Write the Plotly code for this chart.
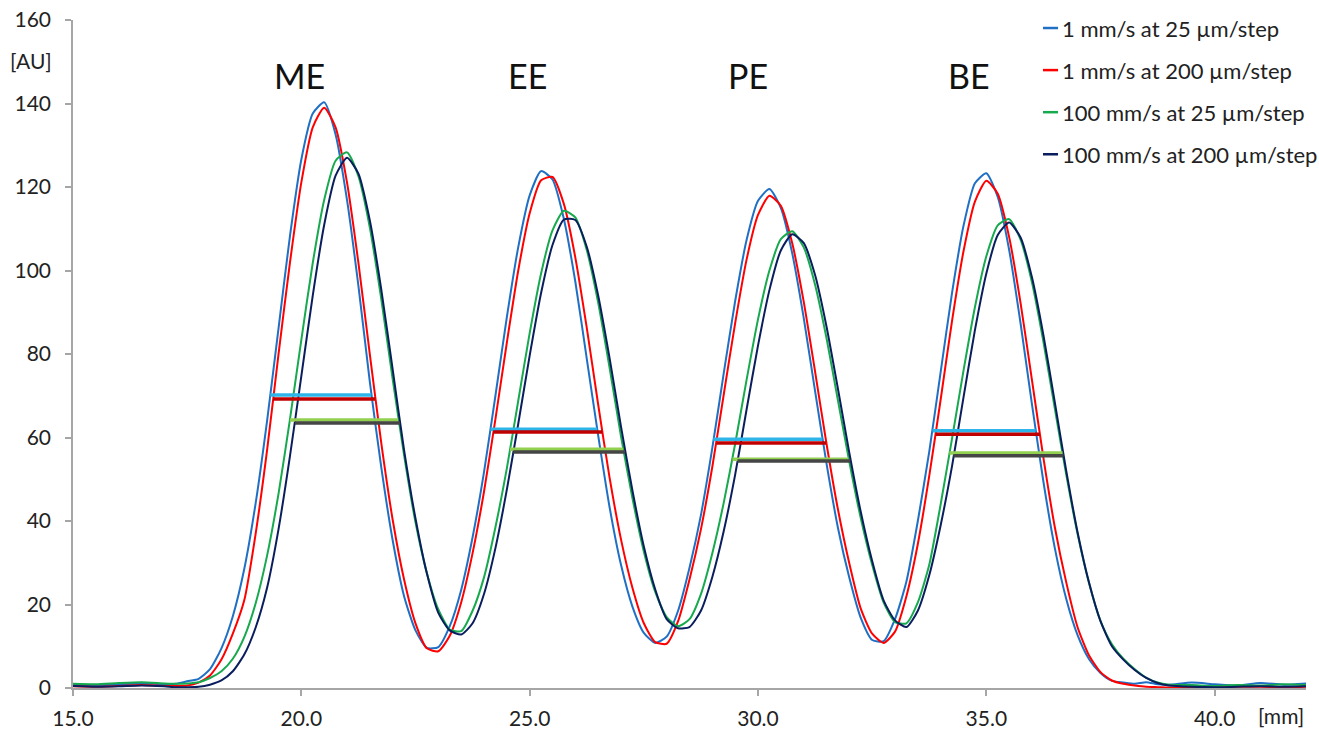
import plotly.graph_objects as go

# ---------------- data ----------------
X_MM = [15.0, 15.5, 16.0, 16.5,
        17.0, 17.25, 17.5, 17.75, 18.0, 18.25, 18.5, 18.75, 19.0, 19.25, 19.5, 19.75,
        20.0, 20.25, 20.5, 20.75, 21.0, 21.25, 21.5, 21.75, 22.0, 22.25, 22.5, 22.75,
        23.0, 23.25, 23.5, 23.75, 24.0, 24.25, 24.5, 24.75, 25.0, 25.25, 25.5, 25.75,
        26.0, 26.25, 26.5, 26.75, 27.0, 27.25, 27.5, 27.75, 28.0, 28.25, 28.5, 28.75,
        29.0, 29.25, 29.5, 29.75, 30.0, 30.25, 30.5, 30.75, 31.0, 31.25, 31.5, 31.75,
        32.0, 32.25, 32.5, 32.75, 33.0, 33.25, 33.5, 33.75, 34.0, 34.25, 34.5, 34.75,
        35.0, 35.25, 35.5, 35.75, 36.0, 36.25, 36.5, 36.75, 37.0, 37.25, 37.5, 37.75,
        38.0, 38.25, 38.5, 38.75,
        39.0, 39.5, 40.0, 40.5, 41.0, 41.5, 42.0]

BLUE_1_25 = [0.8, 0.6, 0.9, 1.1,
             0.9, 1.0, 1.6, 2.2, 4.5, 9.5, 17.2, 28.5, 44.3, 64.0, 86.1, 108.2,
             126.6, 137.6, 140.3, 132.6, 116.9, 96.3, 73.3, 52.9, 35.4, 22.0, 13.8, 9.6,
             9.8, 14.8, 23.5, 36.1, 51.7, 70.0, 88.8, 105.6, 118.0, 123.8, 121.8, 112.3,
             97.3, 78.9, 60.5, 43.3, 29.5, 19.5, 13.2, 10.8, 12.3, 18.5, 28.8, 41.4,
             57.5, 75.4, 92.7, 107.3, 116.7, 119.5, 115.0, 104.1, 88.7, 71.1, 53.8, 38.4,
             26.4, 16.8, 11.5, 11.2, 16.5, 25.5, 40.0, 56.6, 75.7, 94.7, 110.7, 120.9,
             123.3, 117.6, 104.9, 87.3, 67.9, 49.4, 33.5, 21.3, 12.6, 6.9, 3.6, 1.7,
             1.3, 1.0, 1.4, 0.9,
             0.8, 1.3, 0.9, 0.6, 1.2, 0.8, 1.1]

RED_1_200 = [0.4, 0.3, 0.5, 0.7,
             0.5, 0.5, 0.6, 1.3, 3.0, 6.8, 13.0, 21.0, 37.0, 57.0, 79.9, 101.8,
             121.1, 134.3, 139.0, 134.3, 121.1, 101.8, 79.9, 58.7, 40.3, 26.0, 15.5, 9.5,
             8.8, 12.5, 20.5, 32.3, 47.0, 64.4, 82.7, 100.0, 113.7, 121.6, 122.4, 115.9,
             103.1, 86.3, 67.9, 50.4, 35.6, 24.0, 15.5, 11.0, 10.6, 16.0, 26.0, 38.0,
             53.0, 70.3, 87.4, 102.6, 113.3, 117.9, 115.5, 106.5, 92.6, 75.8, 58.5, 42.8,
             29.8, 19.0, 13.0, 10.8, 13.5, 22.0, 34.5, 50.8, 69.1, 88.0, 104.6, 116.5,
             121.5, 118.4, 108.0, 92.2, 73.7, 55.1, 38.5, 25.3, 14.5, 7.8, 3.8, 1.8,
             1.0, 0.6, 0.3, 0.2,
             0.1, 0.1, 0.2, 0.3, 0.3, 0.2, 0.3]

GREEN_100_25 = [1.0, 0.9, 1.2, 1.4,
                1.1, 1.0, 1.1, 1.4, 2.4, 4.0, 7.0, 12.2, 20.3, 31.7, 46.5, 64.3,
                83.4, 101.8, 116.9, 126.3, 128.3, 122.6, 110.3, 93.2, 74.0, 55.8, 39.7, 27.5,
                18.8, 14.0, 13.6, 18.5, 26.5, 38.5, 52.6, 68.8, 85.0, 99.3, 109.6, 114.3,
                112.7, 104.9, 92.3, 76.7, 60.3, 45.5, 32.7, 23.0, 17.0, 14.8, 16.5, 22.5,
                32.3, 44.4, 58.5, 73.8, 88.3, 100.0, 107.5, 109.4, 105.6, 96.6, 83.8, 68.9,
                54.2, 40.7, 29.5, 20.5, 15.8, 15.5, 20.5, 29.5, 44.0, 59.8, 76.0, 91.2,
                103.4, 110.8, 112.3, 107.4, 97.1, 82.9, 66.9, 51.1, 36.8, 25.1, 16.1, 10.5,
                7.0, 4.5, 2.5, 1.3,
                0.8, 0.7, 0.5, 0.7, 0.6, 0.9, 0.7]

NAVY_100_200 = [0.5, 0.3, 0.4, 0.6,
                0.4, 0.2, 0.2, 0.3, 0.8, 1.8, 4.0, 8.0, 14.5, 24.0, 38.0, 55.5,
                74.7, 94.0, 110.9, 122.7, 127.0, 123.2, 112.0, 95.5, 76.3, 57.0, 40.6, 27.4,
                18.0, 13.8, 12.8, 15.5, 22.5, 33.5, 47.5, 63.3, 79.6, 94.6, 106.1, 112.2,
                112.1, 105.7, 94.0, 79.0, 62.6, 47.3, 33.9, 23.6, 16.5, 14.3, 14.6, 18.5,
                26.6, 37.6, 51.1, 66.7, 82.0, 95.3, 104.8, 108.7, 106.6, 98.9, 86.6, 71.7,
                56.3, 42.2, 30.4, 21.0, 16.2, 14.6, 18.5, 27.0, 39.0, 53.2, 69.6, 85.7,
                99.3, 108.5, 111.5, 107.9, 98.3, 84.5, 68.4, 52.0, 37.2, 25.2, 16.0, 10.0,
                6.8, 4.3, 2.4, 1.2,
                0.6, 0.3, 0.2, 0.3, 0.4, 0.3, 0.4]

SERIES_NAMES = ["1 mm/s at 25 µm/step", "1 mm/s at 200 µm/step",
                "100 mm/s at 25 µm/step", "100 mm/s at 200 µm/step"]

# FWHM bars: left x, right x, level
FWHM_BLUE_LEFT = [19.32, 24.14, 29.02, 33.82]
FWHM_BLUE_RIGHT = [21.53, 26.48, 31.41, 36.08]
FWHM_BLUE_LEVEL = [70.2, 62.0, 59.6, 61.6]
FWHM_RED_LEFT = [19.38, 24.20, 29.09, 33.89]
FWHM_RED_RIGHT = [21.62, 26.59, 31.49, 36.17]
FWHM_RED_LEVEL = [69.2, 61.3, 58.7, 60.8]
FWHM_GREEN_LEFT = [19.75, 24.57, 29.44, 34.19]
FWHM_GREEN_RIGHT = [22.12, 27.05, 31.98, 36.67]
FWHM_GREEN_LEVEL = [64.2, 57.2, 54.8, 56.3]
FWHM_GRAY_LEFT = [19.86, 24.64, 29.55, 34.28]
FWHM_GRAY_RIGHT = [22.16, 27.09, 32.02, 36.69]
FWHM_GRAY_LEVEL = [63.5, 56.5, 54.4, 55.6]

PEAK_LABELS = ["ME", "EE", "PE", "BE"]
PEAK_LABEL_X = [19.97, 24.95, 29.79, 34.61]
PEAK_LABEL_Y = [146.6, 146.6, 146.6, 146.6]

X_TICKS = [15, 20, 25, 30, 35, 40]
X_TICK_TEXT = ["15.0", "20.0", "25.0", "30.0", "35.0", "40.0"]

# ---------------- figure ----------------
FONT = "Lato, 'Open Sans', sans-serif"
curve_colors = ["#1F6FC5", "#FF0000", "#16A94D", "#0A1E5E"]
bar_colors = ["#2DB5EA", "#C00000", "#92D050", "#454545"]
series = [BLUE_1_25, RED_1_200, GREEN_100_25, NAVY_100_200]
bars = [(FWHM_BLUE_LEFT, FWHM_BLUE_RIGHT, FWHM_BLUE_LEVEL),
        (FWHM_RED_LEFT, FWHM_RED_RIGHT, FWHM_RED_LEVEL),
        (FWHM_GREEN_LEFT, FWHM_GREEN_RIGHT, FWHM_GREEN_LEVEL),
        (FWHM_GRAY_LEFT, FWHM_GRAY_RIGHT, FWHM_GRAY_LEVEL)]

fig = go.Figure()
for i, (name, ys) in enumerate(zip(SERIES_NAMES, series)):
    assert len(ys) == len(X_MM), (name, len(ys), len(X_MM))
    fig.add_trace(go.Scatter(
        x=X_MM, y=ys, mode="lines", name=name, showlegend=False,
        line=dict(color=curve_colors[i], width=2, shape="spline", smoothing=0.6),
        hoverinfo="x+y+name"))

for i, (ls, rs, lv) in enumerate(bars):
    bx, by = [], []
    for l, r, v in zip(ls, rs, lv):
        bx += [l, r, None]
        by += [v, v, None]
    fig.add_trace(go.Scatter(x=bx, y=by, mode="lines", showlegend=False,
                             line=dict(color=bar_colors[i], width=3.5),
                             hoverinfo="skip"))

for t, x, y in zip(PEAK_LABELS, PEAK_LABEL_X, PEAK_LABEL_Y):
    fig.add_annotation(x=x, y=y, xref="x", yref="y", text=t, showarrow=False,
                       xanchor="center", yanchor="middle",
                       font=dict(family=FONT, size=34, color="#111111"))

fig.add_annotation(x=-0.0527, xref="paper", y=150.4, yref="y", text="[AU]",
                   showarrow=False, xanchor="left", yanchor="middle",
                   font=dict(family=FONT, size=21, color="#222222"))
fig.add_annotation(x=41.46, xref="x", y=-0.041, yref="paper", text="[mm]",
                   showarrow=False, xanchor="center", yanchor="middle",
                   font=dict(family=FONT, size=21, color="#222222"))

# custom legend (short line samples, as in the reference)
LEG_X0, LEG_X1, LEG_TX = 0.7867, 0.7989, 0.8005
LEG_Y = [0.988, 0.925, 0.862, 0.799]
for name, col, ly in zip(SERIES_NAMES, curve_colors, LEG_Y):
    fig.add_shape(type="line", xref="paper", yref="paper", x0=LEG_X0, x1=LEG_X1,
                  y0=ly, y1=ly, line=dict(color=col, width=2.5))
    fig.add_annotation(x=LEG_TX, y=ly, xref="paper", yref="paper", text=name,
                       showarrow=False, xanchor="left", yanchor="middle",
                       font=dict(family=FONT, size=22, color="#222222"))

axis_common = dict(showgrid=False, zeroline=False, showline=True, automargin=False,
                   linecolor="#A6A6A6", linewidth=1.5, ticks="outside",
                   ticklen=6, tickcolor="#A6A6A6", tickwidth=1.5,
                   tickfont=dict(family=FONT, size=21, color="#222222"))

fig.update_layout(
    width=1319, height=732,
    margin=dict(l=73, r=13, t=20, b=44),
    paper_bgcolor="white", plot_bgcolor="white",
    xaxis=dict(range=[15, 42], tickvals=X_TICKS, ticktext=X_TICK_TEXT,
               ticklabelstandoff=5, **axis_common),
    yaxis=dict(range=[0, 160], dtick=20, ticklabelstandoff=10, **axis_common),
    showlegend=False,
)

fig.write_html("out.html", config={"displayModeBar": False},
               post_script="document.body.style.margin='0';"
                           "document.body.style.padding='0';"
                           "document.body.style.overflow='hidden';")
